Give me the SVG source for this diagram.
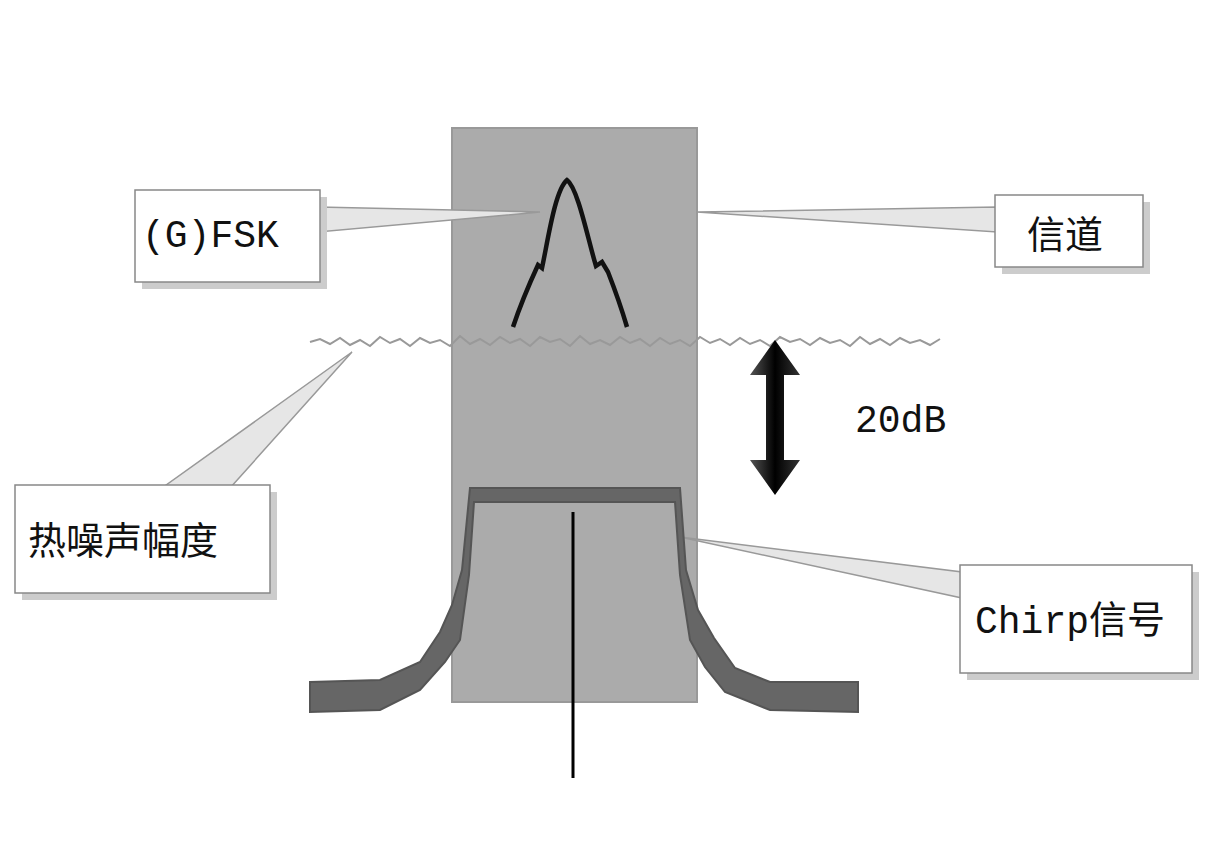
<svg xmlns="http://www.w3.org/2000/svg" width="1207" height="843" viewBox="0 0 1207 843">
<defs>
<style>
.box{fill:#fff;stroke:#888;stroke-width:1.5}
.sh{fill:#ccc}
.lbl{font-family:"Liberation Mono","Noto Sans CJK SC",monospace;font-size:38px;fill:#111}
.wedge{fill:#e6e6e6;stroke:#999;stroke-width:1.5}
</style>
<linearGradient id="ag" x1="0" x2="1"><stop offset="0" stop-color="#555"/><stop offset="0.5" stop-color="#000"/><stop offset="1" stop-color="#333"/></linearGradient>
</defs>
<rect width="1207" height="843" fill="#fff"/>
<rect x="452" y="128" width="245" height="574" fill="#ababab" stroke="#999" stroke-width="2"/>
<g id="connectors">
<polygon class="wedge" points="318,207 540,212 318,232"/>
<polygon class="wedge" points="697,212 997,207 997,232"/>
<polygon class="wedge" points="352,352 162,488 230,488"/>
<polygon class="wedge" points="680,537 962,572 962,598"/>
</g>
<g id="noise">
<polyline fill="none" stroke="#999" stroke-width="2" points="310,342 320,339 330,344 340,338 350,345 360,340 370,346 380,337 390,343 400,339 410,346 420,338 430,343 440,340 450,346 460,336 470,344 480,339 490,345 500,337 510,343 520,339 530,346 540,337 550,342 560,339 570,346 580,336 590,344 600,340 610,345 620,337 630,343 640,339 650,346 660,338 670,344 680,340 690,346 700,337 710,343 720,339 730,345 740,338 750,344 760,340 770,346 780,337 790,342 800,339 810,345 820,338 830,343 840,340 850,346 860,337 870,344 880,339 890,345 900,338 910,343 920,340 930,345 940,339"/>
</g>
<g id="fsk">
<path d="M513,327 C522,300 532,278 538,265 L542,268 C548,240 555,190 567,180 C578,188 588,240 596,266 L602,262 L608,272 C615,290 622,310 627,327" fill="none" stroke="#111" stroke-width="4.5"/>
</g>
<g id="chirp">
<path d="M310,682 L380,680 L420,662 L440,632 L452,605 L462,570 L470,488 L680,488 L686,570 L698,610 L714,638 L735,668 L770,682 L858,682 L858,712 L770,710 L725,692 L705,667 L690,640 L680,575 L675,502 L474,502 L469,575 L460,640 L445,662 L420,690 L380,710 L310,712 Z" fill="#666" stroke="#555" stroke-width="2"/>
<line x1="573" y1="512" x2="573" y2="778" stroke="#000" stroke-width="3"/>
</g>
<g id="arrow">
<polygon points="775,340 800,375 784,375 784,460 800,460 775,495 750,460 766,460 766,375 750,375" fill="url(#ag)"/>
</g>
<text class="lbl" x="855" y="432">20dB</text>
<g id="n-fsk"><rect class="sh" x="142" y="197" width="185" height="92"/><rect class="box" x="135" y="190" width="185" height="92"/><text class="lbl" x="142" y="247">(G)FSK</text></g>
<g id="n-channel"><rect class="sh" x="1002" y="202" width="148" height="72"/><rect class="box" x="995" y="195" width="148" height="72"/><text class="lbl" x="1027" y="248" font-size="40">信道</text></g>
<g id="n-noise"><rect class="sh" x="22" y="492" width="255" height="108"/><rect class="box" x="15" y="485" width="255" height="108"/><text class="lbl" x="28" y="554" font-size="40">热噪声幅度</text></g>
<g id="n-chirp"><rect class="sh" x="967" y="572" width="232" height="108"/><rect class="box" x="960" y="565" width="232" height="108"/><text class="lbl" x="975" y="633">Chirp信号</text></g>
</svg>
